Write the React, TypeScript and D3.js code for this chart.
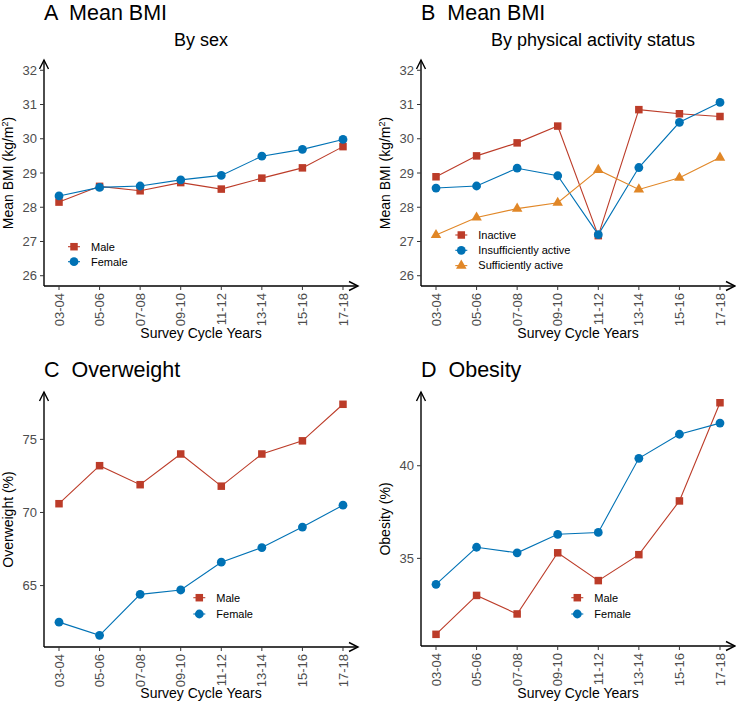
import React from "react";
import * as d3 from "d3";

const cycles = ["03-04", "05-06", "07-08", "09-10", "11-12", "13-14", "15-16", "17-18"];

const bmiMale = [28.15, 28.61, 28.48, 28.72, 28.53, 28.85, 29.15, 29.77];
const bmiFemale = [28.33, 28.58, 28.62, 28.8, 28.93, 29.49, 29.69, 29.98];

const bmiInactive = [28.89, 29.5, 29.88, 30.37, 27.17, 30.85, 30.73, 30.65];
const bmiInsufficient = [28.56, 28.62, 29.14, 28.92, 27.2, 29.16, 30.48, 31.06];
const bmiSufficient = [27.19, 27.7, 27.96, 28.13, 29.09, 28.52, 28.86, 29.45];

const owMale = [70.6, 73.2, 71.9, 74.0, 71.8, 74.0, 74.9, 77.4];
const owFemale = [62.5, 61.6, 64.4, 64.7, 66.6, 67.6, 69.0, 70.5];

const obMale = [30.9, 33.0, 32.0, 35.3, 33.8, 35.2, 38.1, 43.4];
const obFemale = [33.6, 35.6, 35.3, 36.3, 36.4, 40.4, 41.7, 42.3];

const bmiTicks = [26, 27, 28, 29, 30, 31, 32];
const owTicks = [65, 70, 75];
const obTicks = [35, 40];

const RED = "#BC3C29";
const BLUE = "#0072B5";
const ORANGE = "#E18727";
const FONT = "'Liberation Sans', Arial, Helvetica, sans-serif";

type Shape = "square" | "circle" | "triangle";
interface Series {
  name: string;
  values: number[];
  color: string;
  shape: Shape;
}

function Marker({ x, y, shape, color }: { x: number; y: number; shape: Shape; color: string }) {
  if (shape === "square") {
    const s = 7.5;
    return <rect x={x - s / 2} y={y - s / 2} width={s} height={s} fill={color} />;
  }
  if (shape === "circle") {
    return <circle cx={x} cy={y} r={4.4} fill={color} />;
  }
  const p = d3.symbol().type(d3.symbolTriangle).size(48)();
  return <path d={p || ""} transform={`translate(${x},${y})`} fill={color} />;
}

interface PanelProps {
  left: number;
  right: number;
  top: number;
  bottom: number;
  domain: [number, number];
  ticks: number[];
  series: Series[];
  title: string;
  subtitle?: string;
  subtitleX?: number;
  ylabel: React.ReactNode;
  ylabelX: number;
  titleY: number;
  xlabelY: number;
  legendX: number;
  legendY: number;
  legendStep: number;
}

function Panel(p: PanelProps) {
  const x = d3.scalePoint<string>().domain(cycles).range([p.left, p.right]).padding(0.37);
  const y = d3.scaleLinear().domain(p.domain).range([p.bottom, p.top]);
  const line = d3
    .line<number>()
    .x((_, i) => x(cycles[i]) as number)
    .y((d) => y(d));
  const ah = 9;
  const aw = 4.5;
  const cx = (p.left + p.right) / 2;
  const cy = (p.top + p.bottom) / 2;
  return (
    <g fontFamily={FONT}>
      <text x={p.left} y={p.titleY} fontSize={21.5} fill="#000" style={{ whiteSpace: "pre" }} xmlSpace="preserve">
        {p.title}
      </text>
      {p.subtitle && (
        <text x={p.subtitleX ?? cx} y={46} fontSize={18} textAnchor="middle" fill="#000">
          {p.subtitle}
        </text>
      )}
      {/* y axis */}
      <line x1={p.left} x2={p.left} y1={p.bottom} y2={p.top} stroke="#000" strokeWidth={1.4} />
      <path
        d={`M${p.left - aw},${p.top + ah} L${p.left},${p.top} L${p.left + aw},${p.top + ah}`}
        fill="none"
        stroke="#000"
        strokeWidth={1.4}
      />
      {/* x axis */}
      <line x1={p.left} x2={p.right} y1={p.bottom} y2={p.bottom} stroke="#000" strokeWidth={1.4} />
      <path
        d={`M${p.right - ah},${p.bottom - aw} L${p.right},${p.bottom} L${p.right - ah},${p.bottom + aw}`}
        fill="none"
        stroke="#000"
        strokeWidth={1.4}
      />
      {p.ticks.map((t) => (
        <g key={t}>
          <line x1={p.left - 4} x2={p.left} y1={y(t)} y2={y(t)} stroke="#333" strokeWidth={1} />
          <text x={p.left - 7} y={y(t)} dy="0.35em" textAnchor="end" fontSize={13} fill="#4D4D4D">
            {t}
          </text>
        </g>
      ))}
      {cycles.map((c) => {
        const xx = x(c) as number;
        return (
          <g key={c}>
            <line x1={xx} x2={xx} y1={p.bottom} y2={p.bottom + 4} stroke="#333" strokeWidth={1} />
            <text
              transform={`translate(${xx},${p.bottom + 7}) rotate(-90)`}
              dy="0.35em"
              textAnchor="end"
              fontSize={13}
              fill="#4D4D4D"
            >
              {c}
            </text>
          </g>
        );
      })}
      <text x={cx} y={p.xlabelY} textAnchor="middle" fontSize={14} fill="#000">
        Survey Cycle Years
      </text>
      <text
        transform={`translate(${p.ylabelX},${cy}) rotate(-90)`}
        textAnchor="middle"
        fontSize={14}
        fill="#000"
      >
        {p.ylabel}
      </text>
      {p.series.map((s) => (
        <g key={s.name}>
          <path d={line(s.values) || ""} fill="none" stroke={s.color} strokeWidth={1.1} />
          {s.values.map((v, i) => (
            <Marker key={i} x={x(cycles[i]) as number} y={y(v)} shape={s.shape} color={s.color} />
          ))}
        </g>
      ))}
      {p.series.map((s, i) => {
        const ly = p.legendY + i * p.legendStep;
        return (
          <g key={"lg" + s.name}>
            <line x1={p.legendX - 6} x2={p.legendX + 6} y1={ly} y2={ly} stroke={s.color} strokeWidth={1.1} />
            <Marker x={p.legendX} y={ly} shape={s.shape} color={s.color} />
            <text x={p.legendX + 17} y={ly} dy="0.35em" fontSize={11} fill="#000">
              {s.name}
            </text>
          </g>
        );
      })}
    </g>
  );
}

const bmiLabel = (
  <>
    Mean BMI (kg/m
    <tspan fontSize={9} dy={-5}>
      2
    </tspan>
    <tspan dy={5}>)</tspan>
  </>
);

export default function App() {
  const sexBmi: Series[] = [
    { name: "Male", values: bmiMale, color: RED, shape: "square" },
    { name: "Female", values: bmiFemale, color: BLUE, shape: "circle" },
  ];
  const paBmi: Series[] = [
    { name: "Inactive", values: bmiInactive, color: RED, shape: "square" },
    { name: "Insufficiently active", values: bmiInsufficient, color: BLUE, shape: "circle" },
    { name: "Sufficiently active", values: bmiSufficient, color: ORANGE, shape: "triangle" },
  ];
  const ow: Series[] = [
    { name: "Male", values: owMale, color: RED, shape: "square" },
    { name: "Female", values: owFemale, color: BLUE, shape: "circle" },
  ];
  const ob: Series[] = [
    { name: "Male", values: obMale, color: RED, shape: "square" },
    { name: "Female", values: obFemale, color: BLUE, shape: "circle" },
  ];
  return (
    <svg width={736} height={702} style={{ position: "absolute", left: 0, top: 0, background: "#fff" }}>
      <rect width={736} height={702} fill="#fff" />
      <Panel
        left={44}
        right={358}
        top={60}
        bottom={286}
        domain={[25.7, 32.3]}
        ticks={bmiTicks}
        series={sexBmi}
        title="A  Mean BMI"
        subtitle="By sex"
        ylabel={bmiLabel}
        ylabelX={13}
        titleY={19.5}
        xlabelY={338}
        legendX={74}
        legendY={246.7}
        legendStep={15}
      />
      <Panel
        left={421}
        right={735}
        top={60}
        bottom={286}
        domain={[25.7, 32.3]}
        ticks={bmiTicks}
        series={paBmi}
        title="B  Mean BMI"
        subtitle="By physical activity status"
        subtitleX={593}
        ylabel={bmiLabel}
        ylabelX={390}
        titleY={19.5}
        xlabelY={338}
        legendX={461.3}
        legendY={235}
        legendStep={15.3}
      />
      <Panel
        left={44}
        right={358}
        top={392}
        bottom={647}
        domain={[60.8, 78.24]}
        ticks={owTicks}
        series={ow}
        title="C  Overweight"
        ylabel="Overweight (%)"
        ylabelX={13}
        titleY={377}
        xlabelY={698}
        legendX={199.3}
        legendY={597.7}
        legendStep={16.3}
      />
      <Panel
        left={421}
        right={735}
        top={392}
        bottom={646}
        domain={[30.27, 43.98]}
        ticks={obTicks}
        series={ob}
        title="D  Obesity"
        ylabel="Obesity (%)"
        ylabelX={390}
        titleY={377}
        xlabelY={698}
        legendX={577.3}
        legendY={597.7}
        legendStep={16.3}
      />
    </svg>
  );
}
